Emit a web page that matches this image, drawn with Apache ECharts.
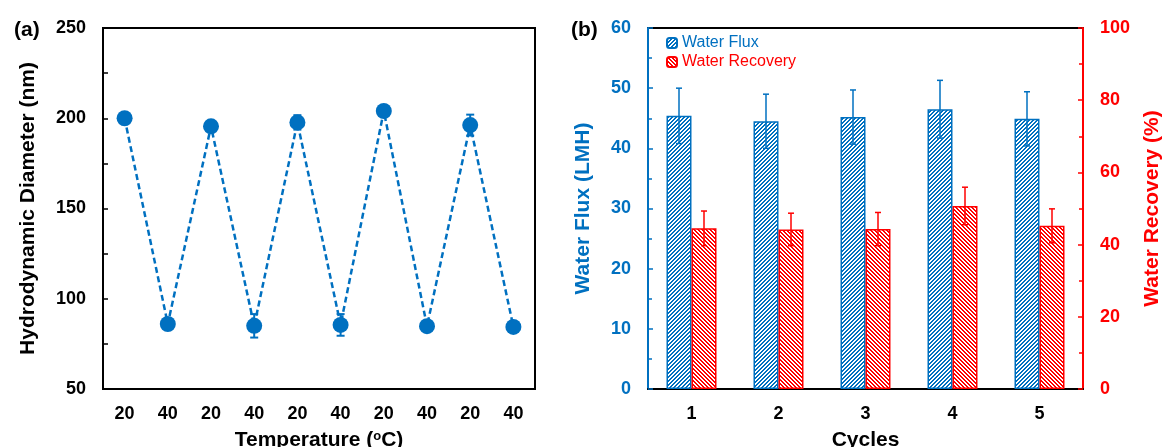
<!DOCTYPE html>
<html>
<head>
<meta charset="utf-8">
<script src="https://cdn.jsdelivr.net/npm/echarts@6/dist/echarts.min.js"></script>
<style>
  html, body { margin: 0; padding: 0; background: #fff; }
  #chart { width: 1162px; height: 447px; }
</style>
</head>
<body>
<div id="chart"></div>
<script>
// Panel (a): hydrodynamic diameter over alternating temperature cycles
const tempLabels = ['20', '40', '20', '40', '20', '40', '20', '40', '20', '40'];
const diameter = [200, 86, 195.5, 85, 197.7, 85.5, 204, 84.8, 196.2, 84.4];
const diameterErr = [1, 1, 1, 6.5, 4, 6, 1, 1, 5.8, 1];

// Panel (b): water flux and recovery over repeated cycles
const cycles = ['1', '2', '3', '4', '5'];
const waterFlux = [45.4, 44.5, 45.2, 46.5, 44.9];
const waterFluxErr = [4.6, 4.5, 4.5, 4.8, 4.5];
const waterRecovery = [44.5, 44.2, 44.3, 50.7, 45.2];
const waterRecoveryErr = [4.8, 4.5, 4.6, 5.2, 4.7];

const BLUE = '#0070C0';
const RED = '#FF0000';
const FONT = '"Liberation Sans", Arial, sans-serif';
const BAR_W = 25;

// Diagonal hatch tile: dir 1 -> "/" stripes, dir -1 -> "\" stripes
function hatch(color, dir) {
  const c = document.createElement('canvas');
  c.width = 4; c.height = 4;
  const ctx = c.getContext('2d');
  ctx.fillStyle = color;
  for (let x = 0; x < 4; x++) {
    for (let y = 0; y < 4; y++) {
      const k = dir > 0 ? (x + y) % 4 : ((x - y) % 4 + 4) % 4;
      if (k === 0 || k === 1) ctx.fillRect(x, y, 1, 1);
    }
  }
  return c;
}

// Vertical error bars with caps, drawn through the axes' own coordinate mapping
function errorBars(values, errs, o) {
  return {
    type: 'custom',
    xAxisIndex: o.xAxisIndex,
    yAxisIndex: o.yAxisIndex,
    z: o.z || 3,
    silent: true,
    encode: { x: 0, y: 1 },
    data: values.map((v, i) => [i, v, errs[i]]),
    renderItem: function (params, api) {
      const i = api.value(0), v = api.value(1), e = api.value(2);
      const top = api.coord([i, v + e]);
      const bot = api.coord([i, v - e]);
      const x = top[0] + (o.offset || 0);
      const hw = o.cap;
      const style = { stroke: o.color, lineWidth: o.width };
      return {
        type: 'group',
        children: [
          { type: 'line', shape: { x1: x, y1: top[1], x2: x, y2: bot[1] }, style: style },
          { type: 'line', shape: { x1: x - hw, y1: top[1], x2: x + hw, y2: top[1] }, style: style },
          { type: 'line', shape: { x1: x - hw, y1: bot[1], x2: x + hw, y2: bot[1] }, style: style }
        ]
      };
    }
  };
}

const tickFont = { fontFamily: FONT, fontWeight: 'bold', fontSize: 18 };
const nameFont = { fontFamily: FONT, fontWeight: 'bold', fontSize: 21 };

const chart = echarts.init(document.getElementById('chart'), null, { renderer: 'canvas' });

const option = {
  animation: false,
  backgroundColor: '#fff',
  textStyle: { fontFamily: FONT },
  title: [
    { text: '(a)', left: 9, top: 15, textStyle: { fontFamily: FONT, fontWeight: 'bold', fontSize: 21, color: '#000' } },
    { text: '(b)', left: 566, top: 15, textStyle: { fontFamily: FONT, fontWeight: 'bold', fontSize: 21, color: '#000' } }
  ],
  legend: {
    orient: 'vertical',
    left: 666,
    top: 35,
    padding: 0,
    itemWidth: 10,
    itemHeight: 10,
    itemGap: 3,
    data: [
      { name: 'Water Flux', textStyle: { color: BLUE } },
      { name: 'Water Recovery', textStyle: { color: RED } }
    ],
    textStyle: { fontFamily: FONT, fontSize: 16 }
  },
  grid: [
    { left: 103, right: 627, top: 28, bottom: 58, show: true, borderColor: '#000', borderWidth: 2, containLabel: false, outerBoundsMode: 'none' },
    { left: 648, right: 79, top: 28, bottom: 58, show: true, borderColor: '#000', borderWidth: 2, containLabel: false, outerBoundsMode: 'none' }
  ],
  xAxis: [
    {
      gridIndex: 0,
      type: 'category',
      data: tempLabels,
      boundaryGap: true,
      name: 'Temperature ({sup|o}C)',
      nameLocation: 'middle',
      nameGap: 41,
      nameTextStyle: Object.assign({ color: '#000', rich: { sup: { fontFamily: FONT, fontWeight: 'bold', fontSize: 13, verticalAlign: 'top', color: '#000' } } }, nameFont),
      axisLine: { lineStyle: { color: '#000', width: 2 } },
      axisTick: { inside: true, length: 5, alignWithLabel: true, lineStyle: { color: '#000', width: 1.5 } },
      axisLabel: Object.assign({ color: '#000', margin: 16, interval: 0 }, tickFont),
      splitLine: { show: false }
    },
    {
      gridIndex: 1,
      type: 'category',
      data: cycles,
      boundaryGap: true,
      name: 'Cycles',
      nameLocation: 'middle',
      nameGap: 41,
      nameTextStyle: Object.assign({ color: '#000' }, nameFont),
      axisLine: { lineStyle: { color: '#000', width: 2 } },
      axisTick: { show: false },
      axisLabel: Object.assign({ color: '#000', margin: 16 }, tickFont),
      splitLine: { show: false }
    }
  ],
  yAxis: [
    {
      gridIndex: 0,
      type: 'value',
      min: 50, max: 250, interval: 50,
      name: 'Hydrodynamic Diameter (nm)',
      nameLocation: 'middle',
      nameRotate: 90,
      nameGap: 64,
      nameTextStyle: Object.assign({ color: '#000' }, nameFont),
      axisLine: { show: true, lineStyle: { color: '#000', width: 2 } },
      axisTick: { show: true, inside: true, length: 5, lineStyle: { color: '#000', width: 1.5 } },
      minorTick: { show: true, splitNumber: 2, length: 5, lineStyle: { color: '#000', width: 1.5 } },
      axisLabel: Object.assign({ color: '#000', margin: 17 }, tickFont),
      splitLine: { show: false }
    },
    {
      gridIndex: 1,
      type: 'value',
      position: 'left',
      min: 0, max: 60, interval: 10,
      name: 'Water Flux (LMH)',
      nameLocation: 'middle',
      nameRotate: 90,
      nameGap: 54,
      nameTextStyle: Object.assign({ color: BLUE }, nameFont),
      axisLine: { show: true, lineStyle: { color: BLUE, width: 2 } },
      axisTick: { show: true, inside: true, length: 5, lineStyle: { color: BLUE, width: 1.5 } },
      minorTick: { show: true, splitNumber: 2, length: 4, lineStyle: { color: BLUE, width: 1.5 } },
      axisLabel: Object.assign({ color: BLUE, margin: 17 }, tickFont),
      splitLine: { show: false }
    },
    {
      gridIndex: 1,
      type: 'value',
      position: 'right',
      min: 0, max: 100, interval: 20,
      name: 'Water Recovery (%)',
      nameLocation: 'middle',
      nameRotate: 90,
      nameGap: 59,
      nameTextStyle: Object.assign({ color: RED }, nameFont),
      axisLine: { show: true, lineStyle: { color: RED, width: 2 } },
      axisTick: { show: true, inside: true, length: 5, lineStyle: { color: RED, width: 1.5 } },
      minorTick: { show: true, splitNumber: 2, length: 4, lineStyle: { color: RED, width: 1.5 } },
      axisLabel: Object.assign({ color: RED, margin: 17 }, tickFont),
      splitLine: { show: false }
    }
  ],
  series: [
    errorBars(diameter, diameterErr, { xAxisIndex: 0, yAxisIndex: 0, color: BLUE, width: 2, cap: 4, z: 2 }),
    {
      name: 'Hydrodynamic Diameter',
      type: 'line',
      xAxisIndex: 0,
      yAxisIndex: 0,
      data: diameter,
      symbol: 'circle',
      symbolSize: 16,
      z: 3,
      itemStyle: { color: BLUE },
      lineStyle: { color: BLUE, width: 2.5, type: [6, 3.5] }
    },
    {
      name: 'Water Flux',
      type: 'bar',
      xAxisIndex: 1,
      yAxisIndex: 1,
      data: waterFlux,
      barWidth: BAR_W,
      barGap: '0%',
      itemStyle: { color: { image: hatch(BLUE, 1), repeat: 'repeat' }, borderColor: BLUE, borderWidth: 1.5 }
    },
    {
      name: 'Water Recovery',
      type: 'bar',
      xAxisIndex: 1,
      yAxisIndex: 2,
      data: waterRecovery,
      barWidth: BAR_W,
      barGap: '0%',
      itemStyle: { color: { image: hatch(RED, -1), repeat: 'repeat' }, borderColor: RED, borderWidth: 1.5 }
    },
    errorBars(waterFlux, waterFluxErr, { xAxisIndex: 1, yAxisIndex: 1, color: BLUE, width: 1.5, cap: 3, offset: -BAR_W / 2, z: 5 }),
    errorBars(waterRecovery, waterRecoveryErr, { xAxisIndex: 1, yAxisIndex: 2, color: RED, width: 1.5, cap: 3, offset: BAR_W / 2, z: 5 })
  ]
};

chart.setOption(option);
</script>
</body>
</html>
